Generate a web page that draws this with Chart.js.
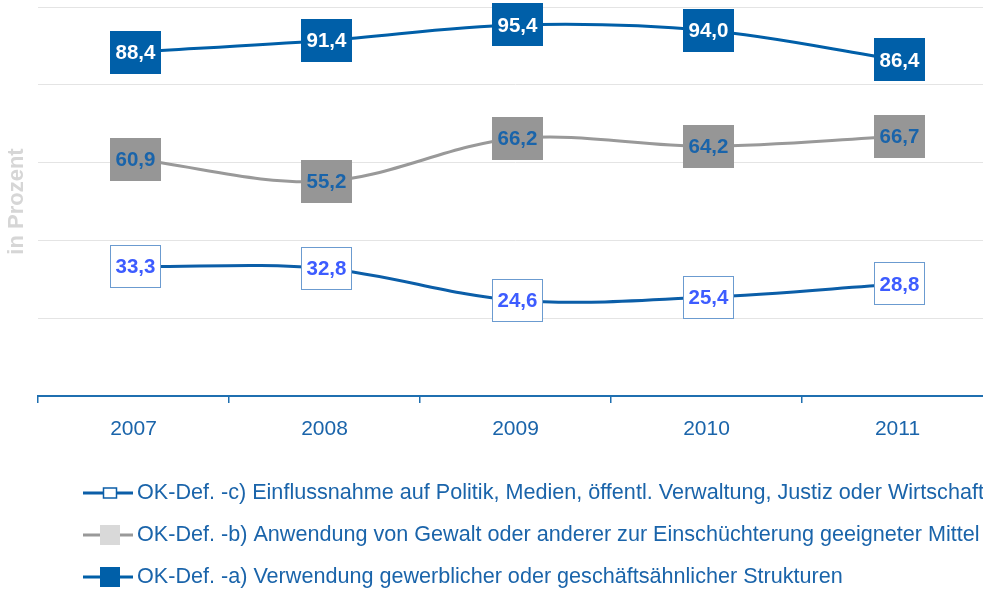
<!DOCTYPE html>
<html>
<head>
<meta charset="utf-8">
<script src="https://cdn.jsdelivr.net/npm/chart.js@4.4.1/dist/chart.umd.min.js"></script>
<style>
  html, body { margin: 0; padding: 0; background: #fff; overflow: hidden; width: 983px; height: 589px; }
  #chart { display: block; }
</style>
</head>
<body>
<canvas id="chart" width="993" height="589"></canvas>
<script>
const years = ["2007", "2008", "2009", "2010", "2011"];
const defA = [88.4, 91.4, 95.4, 94.0, 86.4];
const defB = [60.9, 55.2, 66.2, 64.2, 66.7];
const defC = [33.3, 32.8, 24.6, 25.4, 28.8];

const labelA = "OK-Def. -a) Verwendung gewerblicher oder geschäftsähnlicher Strukturen";
const labelB = "OK-Def. -b) Anwendung von Gewalt oder anderer zur Einschüchterung geeigneter Mittel";
const labelC = "OK-Def. -c) Einflussnahme auf Politik, Medien, öffentl. Verwaltung, Justiz oder Wirtschaft";

const FONT = "'Liberation Sans', Arial, sans-serif";
const textBlue = "#1a64aa";

// how each series' value boxes and legend markers look
const boxStyles = [
  { fill: "#ffffff", stroke: "#6b9bd0", text: "#3d5cff", legendFill: "#ffffff", legendStroke: "#0b5ea8", legendW: 13, legendH: 10 },
  { fill: "#969696", stroke: null, text: "#1a64aa", legendFill: "#d9d9d9", legendStroke: null, legendW: 20, legendH: 20 },
  { fill: "#005fa8", stroke: null, text: "#ffffff", legendFill: "#005fa8", legendStroke: null, legendW: 20, legendH: 20 },
];

const valueBoxes = {
  id: "valueBoxes",
  afterDatasetsDraw(chart) {
    const ctx = chart.ctx;
    ctx.save();
    ctx.font = "bold 20.5px " + FONT;
    ctx.textAlign = "center";
    ctx.textBaseline = "middle";
    chart.data.datasets.forEach((ds, i) => {
      const st = boxStyles[i];
      chart.getDatasetMeta(i).data.forEach((pt, j) => {
        const w = 51, h = 43;
        const x = Math.round(pt.x - w / 2 + 2), y = Math.round(pt.y - h / 2);
        ctx.fillStyle = st.fill;
        ctx.fillRect(x, y, w, h);
        if (st.stroke) {
          ctx.strokeStyle = st.stroke;
          ctx.lineWidth = 1;
          ctx.strokeRect(x + 0.5, y + 0.5, w - 1, h - 1);
        }
        ctx.fillStyle = st.text;
        ctx.fillText(ds.data[j].toFixed(1).replace(".", ","), x + w / 2, pt.y + 1);
      });
    });
    ctx.restore();
  }
};

const bottomLegend = {
  id: "bottomLegend",
  afterDraw(chart) {
    const ctx = chart.ctx;
    const rows = [493, 535, 577];
    ctx.save();
    ctx.font = "21.6px " + FONT;
    ctx.textBaseline = "middle";
    ctx.textAlign = "left";
    chart.data.datasets.forEach((ds, i) => {
      const st = boxStyles[i];
      const y = rows[i];
      ctx.strokeStyle = ds.borderColor;
      ctx.lineWidth = 3;
      ctx.beginPath();
      ctx.moveTo(83, y);
      ctx.lineTo(133, y);
      ctx.stroke();
      ctx.fillStyle = st.legendFill;
      ctx.fillRect(110 - st.legendW / 2, y - st.legendH / 2, st.legendW, st.legendH);
      if (st.legendStroke) {
        ctx.strokeStyle = st.legendStroke;
        ctx.lineWidth = 1.5;
        ctx.strokeRect(110 - st.legendW / 2, y - st.legendH / 2, st.legendW, st.legendH);
      }
      ctx.fillStyle = textBlue;
      ctx.fillText(ds.label, 137, y);
    });
    ctx.restore();
  }
};

new Chart(document.getElementById("chart").getContext("2d"), {
  type: "line",
  data: {
    labels: years,
    datasets: [
      { label: labelC, data: defC, borderColor: "#0b5ea8", borderWidth: 3, pointRadius: 0, tension: 0.35, fill: false },
      { label: labelB, data: defB, borderColor: "#999999", borderWidth: 3, pointRadius: 0, tension: 0.35, fill: false },
      { label: labelA, data: defA, borderColor: "#005fa8", borderWidth: 3, pointRadius: 0, tension: 0.35, fill: false },
    ],
  },
  options: {
    responsive: false,
    animation: false,
    layout: { padding: { top: 7, right: 0, left: 0, bottom: 0 } },
    plugins: {
      legend: { display: false },
      tooltip: { enabled: false },
    },
    scales: {
      x: {
        offset: true,
        grid: { display: true, drawOnChartArea: false, offset: true, tickLength: 7, color: "#1f6fb0", lineWidth: 1.5 },
        border: { display: true, color: "#1f6fb0", width: 2 },
        ticks: { color: textBlue, font: { family: FONT, size: 21 }, padding: 14, maxRotation: 0 },
        afterFit(scale) { scale.height = 193; },
      },
      y: {
        min: 0,
        max: 100,
        ticks: { display: false, stepSize: 20 },
        grid: { color: "#e4e4e4", lineWidth: 1, drawTicks: false },
        border: { display: false },
        title: { display: true, text: "in Prozent", color: "#d6d6d6", font: { family: FONT, size: 22, weight: "bold" }, padding: { top: 4, bottom: 0 } },
        afterFit(scale) { scale.width = 38; },
      },
    },
  },
  plugins: [valueBoxes, bottomLegend],
});
</script>
</body>
</html>
